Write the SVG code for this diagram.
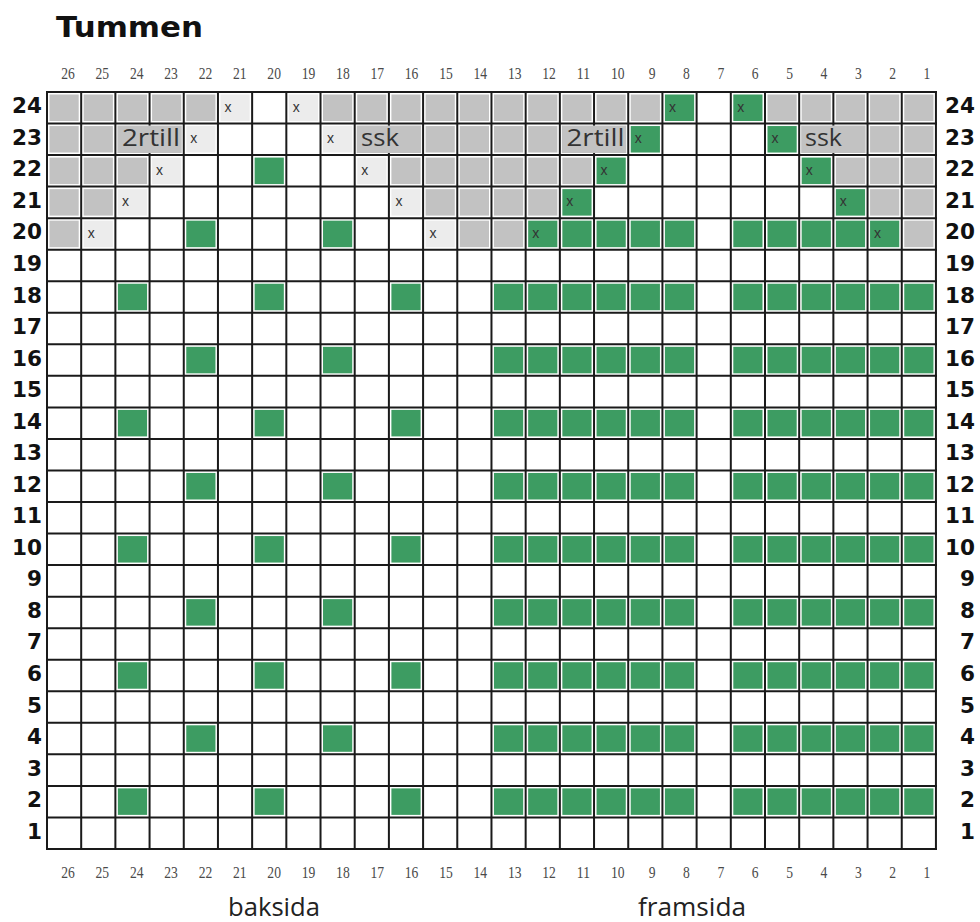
<svg xmlns="http://www.w3.org/2000/svg" xmlns:xlink="http://www.w3.org/1999/xlink" width="980" height="922" viewBox="0 0 980 922">
<style>
.rl{font-family:"DejaVu Sans","Liberation Sans",sans-serif;font-weight:bold;font-size:21.5px;fill:#111;text-anchor:end}
.cn{font-family:"Liberation Serif",serif;font-size:17px;fill:#4a4a4a;text-anchor:middle}
.xm{font-family:"Liberation Sans",sans-serif;font-size:14px;fill:#333;text-anchor:middle}
.lb{font-family:"Open Sans","Liberation Sans",sans-serif;font-size:23px;fill:#333}
.ft{font-family:"Open Sans","Liberation Sans",sans-serif;font-size:25px;fill:#222}
.grid{fill:none;stroke:#1a1a1a;stroke-width:2}
</style>
<defs>
<rect id="cg" x="2.5" y="2.5" width="29.2" height="26.5" fill="#3d9c62"/>
<rect id="cs" x="2.5" y="2.5" width="29.2" height="26.5" fill="#c2c2c2"/>
<rect id="cl" x="2.5" y="2.5" width="29.2" height="26.5" fill="#ececec"/>
<g id="backA"><use href="#cg" x="115.38"/><use href="#cg" x="252.14"/><use href="#cg" x="388.90"/></g>
<g id="backB"><use href="#cg" x="183.76"/><use href="#cg" x="320.52"/></g>
<g id="front"><use href="#cg" x="491.47"/><use href="#cg" x="525.66"/><use href="#cg" x="559.85"/><use href="#cg" x="594.04"/><use href="#cg" x="628.23"/><use href="#cg" x="662.42"/><use href="#cg" x="730.80"/><use href="#cg" x="764.99"/><use href="#cg" x="799.18"/><use href="#cg" x="833.37"/><use href="#cg" x="867.56"/><use href="#cg" x="901.75"/></g>
</defs>
<rect width="980" height="922" fill="#fff"/>
<text id="title" x="56" y="37" font-family="DejaVu Sans, Liberation Sans, sans-serif" font-weight="bold" font-size="28" fill="#111" textLength="147" lengthAdjust="spacingAndGlyphs">Tummen</text>

<g id="cells">
<g id="row24">
<use href="#cs" x="47.00" y="92"/><use href="#cs" x="81.19" y="92"/><use href="#cs" x="115.38" y="92"/><use href="#cs" x="149.57" y="92"/><use href="#cs" x="183.76" y="92"/>
<use href="#cl" x="217.95" y="92"/><use href="#cl" x="286.33" y="92"/>
<use href="#cs" x="320.52" y="92"/><use href="#cs" x="354.71" y="92"/><use href="#cs" x="388.90" y="92"/><use href="#cs" x="423.09" y="92"/><use href="#cs" x="457.28" y="92"/><use href="#cs" x="491.47" y="92"/><use href="#cs" x="525.66" y="92"/><use href="#cs" x="559.85" y="92"/><use href="#cs" x="594.04" y="92"/><use href="#cs" x="628.23" y="92"/>
<use href="#cg" x="662.42" y="92"/><use href="#cg" x="730.80" y="92"/>
<use href="#cs" x="764.99" y="92"/><use href="#cs" x="799.18" y="92"/><use href="#cs" x="833.37" y="92"/><use href="#cs" x="867.56" y="92"/><use href="#cs" x="901.75" y="92"/>
</g>
<g id="row23">
<use href="#cs" x="47.00" y="123.54"/><use href="#cs" x="81.19" y="123.54"/>
<use href="#cl" x="183.76" y="123.54"/><use href="#cl" x="320.52" y="123.54"/>
<use href="#cs" x="423.09" y="123.54"/><use href="#cs" x="457.28" y="123.54"/><use href="#cs" x="491.47" y="123.54"/><use href="#cs" x="525.66" y="123.54"/>
<use href="#cg" x="628.23" y="123.54"/><use href="#cg" x="764.99" y="123.54"/>
<use href="#cs" x="867.56" y="123.54"/><use href="#cs" x="901.75" y="123.54"/>
</g>
<g id="row22">
<use href="#cs" x="47.00" y="155.08"/><use href="#cs" x="81.19" y="155.08"/><use href="#cs" x="115.38" y="155.08"/>
<use href="#cl" x="149.57" y="155.08"/><use href="#cl" x="354.71" y="155.08"/>
<use href="#cg" x="252.14" y="155.08"/>
<use href="#cs" x="388.90" y="155.08"/><use href="#cs" x="423.09" y="155.08"/><use href="#cs" x="457.28" y="155.08"/><use href="#cs" x="491.47" y="155.08"/><use href="#cs" x="525.66" y="155.08"/><use href="#cs" x="559.85" y="155.08"/>
<use href="#cg" x="594.04" y="155.08"/><use href="#cg" x="799.18" y="155.08"/>
<use href="#cs" x="833.37" y="155.08"/><use href="#cs" x="867.56" y="155.08"/><use href="#cs" x="901.75" y="155.08"/>
</g>
<g id="row21">
<use href="#cs" x="47.00" y="186.62"/><use href="#cs" x="81.19" y="186.62"/>
<use href="#cl" x="115.38" y="186.62"/><use href="#cl" x="388.90" y="186.62"/>
<use href="#cs" x="423.09" y="186.62"/><use href="#cs" x="457.28" y="186.62"/><use href="#cs" x="491.47" y="186.62"/><use href="#cs" x="525.66" y="186.62"/>
<use href="#cg" x="559.85" y="186.62"/><use href="#cg" x="833.37" y="186.62"/>
<use href="#cs" x="867.56" y="186.62"/><use href="#cs" x="901.75" y="186.62"/>
</g>
<g id="row20">
<use href="#cs" x="47.00" y="218.16"/><use href="#cl" x="81.19" y="218.16"/>
<use href="#cg" x="183.76" y="218.16"/><use href="#cg" x="320.52" y="218.16"/>
<use href="#cl" x="423.09" y="218.16"/><use href="#cs" x="457.28" y="218.16"/><use href="#cs" x="491.47" y="218.16"/>
<use href="#cg" x="525.66" y="218.16"/><use href="#cg" x="559.85" y="218.16"/><use href="#cg" x="594.04" y="218.16"/><use href="#cg" x="628.23" y="218.16"/><use href="#cg" x="662.42" y="218.16"/>
<use href="#cg" x="730.80" y="218.16"/><use href="#cg" x="764.99" y="218.16"/><use href="#cg" x="799.18" y="218.16"/><use href="#cg" x="833.37" y="218.16"/><use href="#cg" x="867.56" y="218.16"/>
<use href="#cs" x="901.75" y="218.16"/>
</g>
<g id="evenRows">
<use href="#backA" y="281.24"/><use href="#front" y="281.24"/>
<use href="#backB" y="344.32"/><use href="#front" y="344.32"/>
<use href="#backA" y="407.40"/><use href="#front" y="407.40"/>
<use href="#backB" y="470.48"/><use href="#front" y="470.48"/>
<use href="#backA" y="533.56"/><use href="#front" y="533.56"/>
<use href="#backB" y="596.64"/><use href="#front" y="596.64"/>
<use href="#backA" y="659.72"/><use href="#front" y="659.72"/>
<use href="#backB" y="722.80"/><use href="#front" y="722.80"/>
<use href="#backA" y="785.88"/><use href="#front" y="785.88"/>
</g>
</g>

<path id="grid" class="grid" d="M47.00 92V848.96M81.19 92V848.96M115.38 92V848.96M149.57 92V848.96M183.76 92V848.96M217.95 92V848.96M252.14 92V848.96M286.33 92V848.96M320.52 92V848.96M354.71 92V848.96M388.90 92V848.96M423.09 92V848.96M457.28 92V848.96M491.47 92V848.96M525.66 92V848.96M559.85 92V848.96M594.04 92V848.96M628.23 92V848.96M662.42 92V848.96M696.61 92V848.96M730.80 92V848.96M764.99 92V848.96M799.18 92V848.96M833.37 92V848.96M867.56 92V848.96M901.75 92V848.96M935.94 92V848.96
M46 92H937M46 123.54H937M46 155.08H937M46 186.62H937M46 218.16H937M46 249.70H937M46 281.24H937M46 312.78H937M46 344.32H937M46 375.86H937M46 407.40H937M46 438.94H937M46 470.48H937M46 502.02H937M46 533.56H937M46 565.10H937M46 596.64H937M46 628.18H937M46 659.72H937M46 691.26H937M46 722.80H937M46 754.34H937M46 785.88H937M46 817.42H937M46 848.96H937"/>

<g id="stitchLabels">
<rect x="117.38" y="125.54" width="64.38" height="27.5" fill="#c2c2c2"/>
<rect x="356.71" y="125.54" width="64.38" height="27.5" fill="#c2c2c2"/>
<rect x="561.85" y="125.54" width="64.38" height="27.5" fill="#c2c2c2"/>
<rect x="801.18" y="125.54" width="64.38" height="27.5" fill="#c2c2c2"/>
<text class="lb" x="122" y="146" textLength="58" lengthAdjust="spacingAndGlyphs">2rtill</text>
<text class="lb" x="361" y="146" textLength="38" lengthAdjust="spacingAndGlyphs">ssk</text>
<text class="lb" x="566.5" y="146" textLength="58" lengthAdjust="spacingAndGlyphs">2rtill</text>
<text class="lb" x="805" y="146" textLength="37" lengthAdjust="spacingAndGlyphs">ssk</text>
</g>

<g id="xmarks">
<text class="xm" x="227.95" y="111.5">x</text><text class="xm" x="296.33" y="111.5">x</text><text class="xm" x="672.42" y="111.5">x</text><text class="xm" x="740.80" y="111.5">x</text>
<text class="xm" x="193.76" y="143">x</text><text class="xm" x="330.52" y="143">x</text><text class="xm" x="638.23" y="143">x</text><text class="xm" x="774.99" y="143">x</text>
<text class="xm" x="159.57" y="174.6">x</text><text class="xm" x="364.71" y="174.6">x</text><text class="xm" x="604.04" y="174.6">x</text><text class="xm" x="809.18" y="174.6">x</text>
<text class="xm" x="125.38" y="206.1">x</text><text class="xm" x="398.90" y="206.1">x</text><text class="xm" x="569.85" y="206.1">x</text><text class="xm" x="843.37" y="206.1">x</text>
<text class="xm" x="91.19" y="237.7">x</text><text class="xm" x="433.09" y="237.7">x</text><text class="xm" x="535.66" y="237.7">x</text><text class="xm" x="877.56" y="237.7">x</text>
</g>

<g id="rowLabelsLeft">
<text class="rl" x="42" y="113.3">24</text><text class="rl" x="42" y="144.84">23</text><text class="rl" x="42" y="176.38">22</text><text class="rl" x="42" y="207.92">21</text><text class="rl" x="42" y="239.46">20</text><text class="rl" x="42" y="271.0">19</text><text class="rl" x="42" y="302.54">18</text><text class="rl" x="42" y="334.08">17</text><text class="rl" x="42" y="365.62">16</text><text class="rl" x="42" y="397.16">15</text><text class="rl" x="42" y="428.7">14</text><text class="rl" x="42" y="460.24">13</text><text class="rl" x="42" y="491.78">12</text><text class="rl" x="42" y="523.32">11</text><text class="rl" x="42" y="554.86">10</text><text class="rl" x="42" y="586.4">9</text><text class="rl" x="42" y="617.94">8</text><text class="rl" x="42" y="649.48">7</text><text class="rl" x="42" y="681.02">6</text><text class="rl" x="42" y="712.56">5</text><text class="rl" x="42" y="744.1">4</text><text class="rl" x="42" y="775.64">3</text><text class="rl" x="42" y="807.18">2</text><text class="rl" x="42" y="838.72">1</text>
</g>
<g id="rowLabelsRight">
<text class="rl" x="975" y="113.3">24</text><text class="rl" x="975" y="144.84">23</text><text class="rl" x="975" y="176.38">22</text><text class="rl" x="975" y="207.92">21</text><text class="rl" x="975" y="239.46">20</text><text class="rl" x="975" y="271.0">19</text><text class="rl" x="975" y="302.54">18</text><text class="rl" x="975" y="334.08">17</text><text class="rl" x="975" y="365.62">16</text><text class="rl" x="975" y="397.16">15</text><text class="rl" x="975" y="428.7">14</text><text class="rl" x="975" y="460.24">13</text><text class="rl" x="975" y="491.78">12</text><text class="rl" x="975" y="523.32">11</text><text class="rl" x="975" y="554.86">10</text><text class="rl" x="975" y="586.4">9</text><text class="rl" x="975" y="617.94">8</text><text class="rl" x="975" y="649.48">7</text><text class="rl" x="975" y="681.02">6</text><text class="rl" x="975" y="712.56">5</text><text class="rl" x="975" y="744.1">4</text><text class="rl" x="975" y="775.64">3</text><text class="rl" x="975" y="807.18">2</text><text class="rl" x="975" y="838.72">1</text>
</g>

<g id="colLabelsTop" transform="scale(0.8,1)">
<text class="cn" x="85" y="79">26</text><text class="cn" x="127.95" y="79">25</text><text class="cn" x="170.9" y="79">24</text><text class="cn" x="213.85" y="79">23</text><text class="cn" x="256.8" y="79">22</text><text class="cn" x="299.75" y="79">21</text><text class="cn" x="342.7" y="79">20</text><text class="cn" x="385.65" y="79">19</text><text class="cn" x="428.6" y="79">18</text><text class="cn" x="471.55" y="79">17</text><text class="cn" x="514.5" y="79">16</text><text class="cn" x="557.45" y="79">15</text><text class="cn" x="600.4" y="79">14</text><text class="cn" x="643.35" y="79">13</text><text class="cn" x="686.3" y="79">12</text><text class="cn" x="729.25" y="79">11</text><text class="cn" x="772.2" y="79">10</text><text class="cn" x="815.15" y="79">9</text><text class="cn" x="858.1" y="79">8</text><text class="cn" x="901.05" y="79">7</text><text class="cn" x="944" y="79">6</text><text class="cn" x="986.95" y="79">5</text><text class="cn" x="1029.9" y="79">4</text><text class="cn" x="1072.85" y="79">3</text><text class="cn" x="1115.8" y="79">2</text><text class="cn" x="1158.75" y="79">1</text>
</g>
<g id="colLabelsBottom" transform="scale(0.8,1)">
<text class="cn" x="85" y="878">26</text><text class="cn" x="127.95" y="878">25</text><text class="cn" x="170.9" y="878">24</text><text class="cn" x="213.85" y="878">23</text><text class="cn" x="256.8" y="878">22</text><text class="cn" x="299.75" y="878">21</text><text class="cn" x="342.7" y="878">20</text><text class="cn" x="385.65" y="878">19</text><text class="cn" x="428.6" y="878">18</text><text class="cn" x="471.55" y="878">17</text><text class="cn" x="514.5" y="878">16</text><text class="cn" x="557.45" y="878">15</text><text class="cn" x="600.4" y="878">14</text><text class="cn" x="643.35" y="878">13</text><text class="cn" x="686.3" y="878">12</text><text class="cn" x="729.25" y="878">11</text><text class="cn" x="772.2" y="878">10</text><text class="cn" x="815.15" y="878">9</text><text class="cn" x="858.1" y="878">8</text><text class="cn" x="901.05" y="878">7</text><text class="cn" x="944" y="878">6</text><text class="cn" x="986.95" y="878">5</text><text class="cn" x="1029.9" y="878">4</text><text class="cn" x="1072.85" y="878">3</text><text class="cn" x="1115.8" y="878">2</text><text class="cn" x="1158.75" y="878">1</text>
</g>

<g id="footer">
<text class="ft" x="228" y="916" textLength="92" lengthAdjust="spacingAndGlyphs">baksida</text>
<text class="ft" x="638" y="916" textLength="108" lengthAdjust="spacingAndGlyphs">framsida</text>
</g>
</svg>
